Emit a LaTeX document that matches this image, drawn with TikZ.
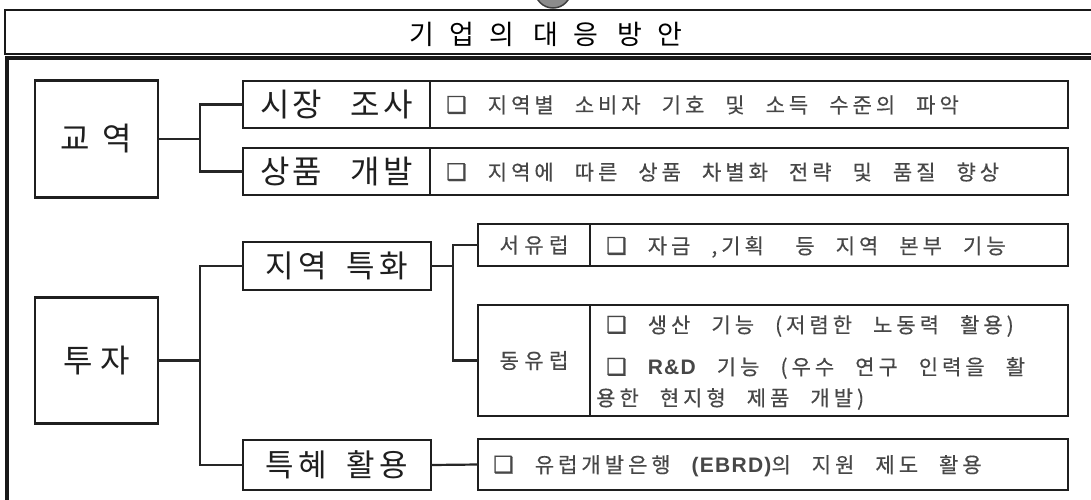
\documentclass[tikz,border=0pt]{standalone}
\usepackage{fontspec}
\newfontfamily\kr{Noto Sans CJK KR}
\newfontfamily\krA[LetterSpace=9]{Noto Sans CJK KR}
\newfontfamily\krB[LetterSpace=15]{Noto Sans CJK KR}
\newfontfamily\krS[LetterSpace=26,FakeBold=0.4]{Noto Sans CJK KR}
\newfontfamily\krD[LetterSpace=19,FakeBold=0.4]{Noto Sans CJK KR}
\newfontfamily\krT[LetterSpace=56]{Noto Sans CJK KR}
\newfontfamily\dvs[FakeBold=1.2]{DejaVu Sans}
\newfontfamily\latn[LetterSpace=6]{Liberation Sans}
\newcommand\ckbox{{\dvs\fontsize{23}{23}\selectfont ❑}}
\newcommand\wsp[1]{\hspace{#1em}}
\newcommand\dw{\hspace{1.0em}}
\begin{document}
\begin{tikzpicture}[x=1pt,y=-1pt,
  bx/.style={draw=black!88, line width=2.6pt, inner sep=0pt, outer sep=0pt, rectangle},
  conn/.style={draw=black!85, line width=2.2pt},
  labA/.style={font=\krA\fontsize{32}{32}\selectfont, text=black!88},
  labB/.style={font=\krB\fontsize{31}{31}\selectfont, text=black!88},
  labC/.style={font=\kr\fontsize{32}{32}\selectfont, text=black!88},
  sub/.style={font=\krS\fontsize{21}{21}\selectfont, text=black!72},
  dsc/.style={font=\krD\fontsize{21}{21}\selectfont, text=black!72, anchor=west, inner sep=0pt},
  ttl/.style={font=\krT\fontsize{27}{27}\selectfont, text=black}
]
\useasboundingbox (0,0) rectangle (1091,499);
\clip (0,0) rectangle (1091,499);
\fill[white] (0,0) rectangle (1091,499);

% partial logo at top
\draw[fill=black!45, draw=black!75, line width=1.5pt] (553,-10) circle (18);

% title frame
\draw[line width=2.6pt, black!90] (1100,10) -- (5,10) -- (5,54) -- (1100,54);
\draw[line width=3.8pt, black!90] (1100,58) -- (7,58) -- (7,510);
\node[ttl] (title) at (546,34) {기업의\wsp{0.7}대응\wsp{0.7}방안};

% trade
\node[bx, minimum width=123pt, minimum height=117pt, labC] (jg) at (96.5,139) {교\wsp{0.4}역};
\node[bx, minimum width=187pt, minimum height=47pt, labA] (sj) at (336.5,104.5) {시장\wsp{0.9}조사};
\node[bx, minimum width=638pt, minimum height=47pt] (d1) at (749,104.5) {};
\node[bx, minimum width=187pt, minimum height=47pt, labA] (sp) at (336.5,171.5) {상품\wsp{0.9}개발};
\node[bx, minimum width=638pt, minimum height=47pt] (d2) at (749,171.5) {};
\node[dsc] (t1) at (446,105) {\ckbox\dw 지역별\dw 소비자\dw 기호\dw 및\dw 소득\dw 수준의\dw 파악};
\node[dsc] (t2) at (446,172) {\ckbox\dw 지역에\dw 따른\dw 상품\dw 차별화\dw 전략\dw 및\dw 품질\dw 향상};

% investment
\node[bx, minimum width=123pt, minimum height=126pt, labC] (tj) at (96.5,360.5) {투\wsp{0.22}자};
\node[bx, minimum width=188pt, minimum height=48pt, labB] (jt) at (337,266) {지역\wsp{0.62}특화};
\node[bx, minimum width=188pt, minimum height=50pt, labB] (th) at (337,465) {특혜\wsp{0.62}활용};

\node[bx, minimum width=112pt, minimum height=42pt, sub] (seo) at (534,245) {서유럽};
\node[bx, minimum width=478pt, minimum height=42pt] (seod) at (829,245) {};
\node[dsc] (t3) at (606,247) {\ckbox\dw 자금\dw ,기획\dw\wsp{0.5}등\dw 지역\dw 본부\dw 기능};

\node[bx, minimum width=112pt, minimum height=111pt, sub] (dong) at (534,360.5) {동유럽};
\node[bx, minimum width=478pt, minimum height=111pt] (dongd) at (829,360.5) {};
\node[dsc] (t4) at (606,326) {\ckbox\dw 생산\dw 기능\dw (저렴한\dw 노동력\dw 활용)};
\node[dsc] (t5) at (606,368) {\ckbox\dw {\latn\bfseries R\&D}\dw 기능\dw (우수\dw 연구\dw 인력을\dw 활};
\node[dsc] (t6) at (596,399) {용한\dw 현지형\dw 제품\dw 개발)};

\node[bx, minimum width=590pt, minimum height=51pt] (d5) at (773,464.5) {};
\node[dsc] (t7) at (493,466) {\ckbox\dw 유럽개발은행\dw {\latn\bfseries (EBRD)}의\dw 지원\dw 제도\dw 활용};

% connectors
\coordinate (ja) at (200,139);
\coordinate (jb) at (200,360.5);
\coordinate (jc) at (453,266);
\draw[conn] (jg.east) -- (ja);
\draw[conn] (sj.west) -| (ja) |- (sp.west);
\draw[conn] (tj.east) -- (jb);
\draw[conn] (jt.west) -| (jb) |- (th.west);
\draw[conn] (jt.east) -- (jc);
\draw[conn] (seo.west) -| (jc) |- (dong.west);
\draw[conn] (th.east) -- (d5.west);
\end{tikzpicture}
\end{document}
